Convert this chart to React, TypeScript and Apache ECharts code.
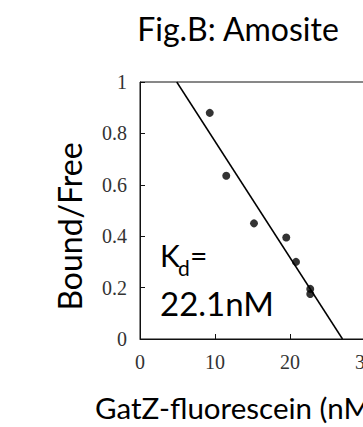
import React, { useEffect, useRef } from "react";
import * as echarts from "echarts";

const titleText = "Fig.B: Amosite";
const xAxisTitle = "GatZ-fluorescein (nM)";
const yAxisTitle = "Bound/Free";
const kdLabel = "K";
const kdSub = "d";
const kdValue = "22.1nM";

const pointX = [9.3, 11.5, 15.2, 19.5, 20.8, 22.7, 22.7];
const pointY = [0.88, 0.635, 0.45, 0.395, 0.3, 0.195, 0.175];
const fitX = [4.9, 27.0];
const fitY = [1.0, 0.0];

const xMin = 0;
const xMax = 30;
const xStep = 10;
const yMin = 0;
const yMax = 1;
const yStep = 0.2;

const sans = "Lato";
const serif = "Liberation Serif";

export default function App() {
  const ref = useRef<HTMLDivElement>(null);
  useEffect(() => {
    document.body.style.margin = "0";
    const chart = echarts.init(ref.current!, null, { renderer: "svg" });
    const points = pointX.map((x, i) => [x, pointY[i]]);
    const fit = fitX.map((x, i) => [x, fitY[i]]);
    chart.setOption({
      animation: false,
      backgroundColor: "#ffffff",
      grid: {
        left: 140,
        top: 82,
        width: 225,
        height: 257,
        containLabel: false,
        outerBoundsMode: "none",
        show: true,
        borderColor: "#111",
        borderWidth: 1,
        backgroundColor: "transparent",
      },
      xAxis: {
        type: "value",
        min: xMin,
        max: xMax,
        interval: xStep,
        axisLine: { show: true, lineStyle: { color: "#111", width: 1 } },
        axisTick: { show: true, inside: true, length: 5, lineStyle: { color: "#111" } },
        splitLine: { show: false },
        axisLabel: {
          margin: 13,
          fontFamily: serif,
          fontSize: 20,
          color: "#333",
        },
      },
      yAxis: {
        type: "value",
        min: yMin,
        max: yMax,
        interval: yStep,
        axisLine: { show: true, lineStyle: { color: "#111", width: 1 } },
        axisTick: { show: true, inside: true, length: 5, lineStyle: { color: "#111" } },
        splitLine: { show: false },
        axisLabel: {
          margin: 13,
          fontFamily: serif,
          fontSize: 20,
          color: "#333",
          formatter: (v: number) => String(+v.toFixed(1)),
        },
      },
      series: [
        {
          type: "line",
          data: fit,
          symbol: "none",
          lineStyle: { color: "#000", width: 1.5 },
          z: 2,
        },
        {
          type: "scatter",
          data: points,
          symbol: "circle",
          symbolSize: 8,
          itemStyle: { color: "#000" },
          z: 3,
        },
      ],
      graphic: [
        {
          type: "text",
          x: 238,
          y: 28,
          style: {
            text: titleText,
            font: `32px ${sans}`,
            fill: "#000",
            textAlign: "center",
            textVerticalAlign: "middle",
          },
        },
        {
          type: "text",
          x: 69,
          y: 226.5,
          rotation: Math.PI / 2,
          style: {
            text: yAxisTitle,
            font: `32px ${sans}`,
            fill: "#000",
            textAlign: "center",
            textVerticalAlign: "middle",
          },
        },
        {
          type: "text",
          x: 95,
          y: 407.5,
          style: {
            text: xAxisTitle,
            font: `29.5px ${sans}`,
            fill: "#000",
            textAlign: "left",
            textVerticalAlign: "middle",
          },
        },
        {
          type: "text",
          x: 160,
          y: 255,
          style: {
            text: kdLabel,
            font: `30px ${sans}`,
            fill: "#000",
            textAlign: "left",
            textVerticalAlign: "middle",
          },
        },
        {
          type: "text",
          x: 178,
          y: 267,
          style: {
            text: kdSub,
            font: `21px ${sans}`,
            fill: "#000",
            textAlign: "left",
            textVerticalAlign: "middle",
          },
        },
        {
          type: "text",
          x: 190,
          y: 255,
          style: {
            text: "=",
            font: `30px ${sans}`,
            fill: "#000",
            textAlign: "left",
            textVerticalAlign: "middle",
          },
        },
        {
          type: "text",
          x: 160,
          y: 303,
          style: {
            text: kdValue,
            font: `33px ${sans}`,
            fill: "#000",
            textAlign: "left",
            textVerticalAlign: "middle",
          },
        },
      ],
    });
    return () => chart.dispose();
  }, []);
  return (
    <div
      ref={ref}
      style={{ position: "absolute", left: 0, top: 0, width: 363, height: 427, overflow: "hidden" }}
    />
  );
}
